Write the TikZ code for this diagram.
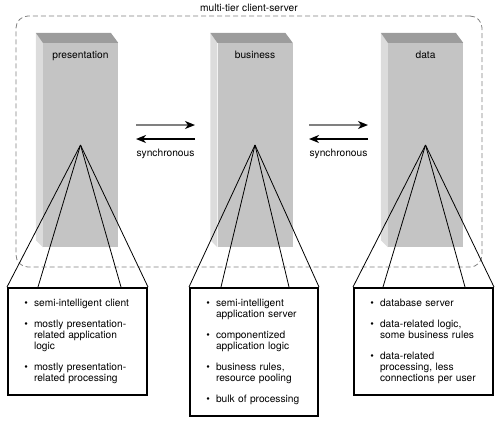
\documentclass[tikz,border=0pt]{standalone}
\usepackage{fontspec}
\setmainfont{TeX Gyre Heros}
\usepackage{enumitem}
\usetikzlibrary{arrows.meta,positioning,shadows}
\definecolor{tierfront}{RGB}{196,196,196}
\definecolor{tierside}{RGB}{220,220,220}
\definecolor{tiertop}{RGB}{156,156,156}
\definecolor{framegray}{RGB}{128,128,128}
\setlist[itemize]{nosep,leftmargin=18bp,labelsep=6bp,itemsep=10bp,label=\textbullet}
\tikzstyle{tier}=[rectangle,fill=tierfront,minimum width=75bp,minimum height=204bp,inner sep=0pt]
\tikzstyle{tiername}=[inner sep=0pt]
\tikzstyle{notebox}=[draw,line width=2bp,fill=white,anchor=north west,inner xsep=8bp,inner ysep=7bp,align=left,drop shadow={shadow xshift=1bp,shadow yshift=-1bp,fill=black!35}]
\tikzstyle{fan} = [draw,line width=.8bp,-]
\tikzstyle{sync} = [draw,line width=1.5bp,-{Stealth[length=10bp,width=8bp,inset=3bp,black]}]

\begin{document}
\begin{tikzpicture}[x=1bp,y=-1bp,font=\fontsize{10.2bp}{11bp}\selectfont]
        \useasboundingbox (0,0) rectangle (500,421);
        % outer frame
        \node[draw=framegray,line width=.8bp,dash pattern=on 5bp off 3bp,rounded corners=12bp,minimum width=466bp,minimum height=251bp] (tiers) at (249,141.5) {};
        \node[inner sep=0pt] (tierstitle) at ([yshift=8bp]tiers.north) {multi-tier client-server};
        % columns
        \node[tier] (pres) at (80.5,145) {};
        \node[tier] (bus) at (255,145) {};
        \node[tier] (data) at (425.5,145) {};
        \fill[tierside] (pres.north west) -- ++(-7,-10) -- ([xshift=-7bp,yshift=7bp]pres.south west) -- (pres.south west) -- cycle;
        \fill[tiertop] (pres.north west) -- ++(-7,-10) -- ++(75,0) -- (pres.north east) -- cycle;
        \fill[tierside] (bus.north west) -- ++(-7,-10) -- ([xshift=-7bp,yshift=7bp]bus.south west) -- (bus.south west) -- cycle;
        \fill[tiertop] (bus.north west) -- ++(-7,-10) -- ++(75,0) -- (bus.north east) -- cycle;
        \fill[tierside] (data.north west) -- ++(-7,-10) -- ([xshift=-7bp,yshift=7bp]data.south west) -- (data.south west) -- cycle;
        \fill[tiertop] (data.north west) -- ++(-7,-10) -- ++(75,0) -- (data.north east) -- cycle;
        \node[tiername,below=8bp of pres.north] (presname) {presentation};
        \node[tiername,below=8bp of bus.north] (busname) {business};
        \node[tiername,below=8bp of data.north] (dataname) {data};
        % synchronous arrows
        \coordinate (pb1) at (136,125);
        \coordinate (pb2) at (195,125);
        \coordinate (pb3) at (136,139);
        \coordinate (pb4) at (195,139);
        \coordinate (bd1) at (309,125);
        \coordinate (bd2) at (368,125);
        \coordinate (bd3) at (309,139);
        \coordinate (bd4) at (368,139);
        \draw[sync,framegray] (pb1) to (pb2);
        \draw[sync] (pb4) to (pb3);
        \draw[sync,framegray] (bd1) to (bd2);
        \draw[sync] (bd4) to (bd3);
        \node[inner sep=0pt] (pbsync) at (165.5,154) {synchronous};
        \node[inner sep=0pt] (bdsync) at (338.5,154) {synchronous};
        % detail boxes
        \node[notebox,text width=123bp] (presbox) at (7,287) {\begin{itemize}
                \item semi-intelligent client
                \item mostly presentation-\\related application\\logic
                \item mostly presentation-\\related processing
        \end{itemize}\kern5bp};
        \node[notebox,text width=112bp] (busbox) at (189,287) {\begin{itemize}
                \item semi-intelligent\\application server
                \item componentized\\application logic
                \item business rules,\\resource pooling
                \item bulk of processing
        \end{itemize}\kern5bp};
        \node[notebox,text width=123bp] (databox) at (353,287) {\begin{itemize}
                \item database server
                \item data-related logic,\\some business rules
                \item data-related\\processing, less\\connections per user
        \end{itemize}\kern5bp};
        % fans
        \draw[fan] (pres.center) to (presbox.north west);
        \draw[fan] (pres.center) to ([xshift=31bp]presbox.north west);
        \draw[fan] (pres.center) to ([xshift=-27bp]presbox.north east);
        \draw[fan] (pres.center) to (presbox.north east);
        \draw[fan] (bus.center) to (busbox.north west);
        \draw[fan] (bus.center) to ([xshift=32bp]busbox.north west);
        \draw[fan] (bus.center) to ([xshift=-30bp]busbox.north east);
        \draw[fan] (bus.center) to (busbox.north east);
        \draw[fan] (data.center) to (databox.north west);
        \draw[fan] (data.center) to ([xshift=30bp]databox.north west);
        \draw[fan] (data.center) to ([xshift=-29bp]databox.north east);
        \draw[fan] (data.center) to (databox.north east);
      \end{tikzpicture}
\end{document}
